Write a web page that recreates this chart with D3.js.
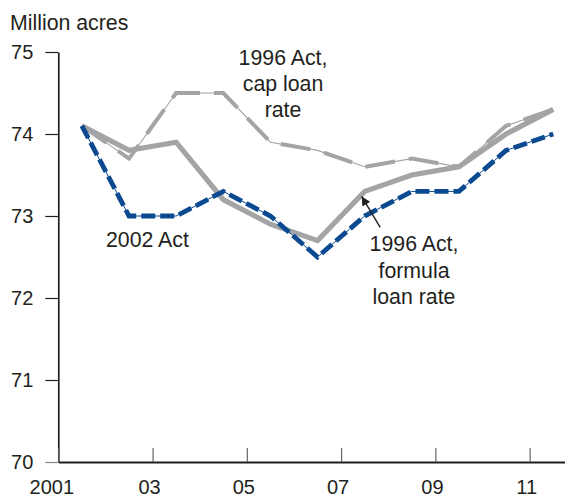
<!DOCTYPE html>
<html>
<head>
<meta charset="utf-8">
<script src="https://cdn.jsdelivr.net/npm/d3@7/dist/d3.min.js"></script>
<style>
  html, body { margin: 0; padding: 0; background: #fff; }
  svg { display: block; font-family: "Liberation Sans", Arial, Helvetica, sans-serif; }
</style>
</head>
<body>
<svg id="chart" width="565" height="500"></svg>
<script>
// ---- data ----
const cropYears = [2001, 2002, 2003, 2004, 2005, 2006, 2007, 2008, 2009, 2010, 2011];
const act1996Formula = [74.1, 73.8, 73.9, 73.2, 72.9, 72.7, 73.3, 73.5, 73.6, 74.0, 74.3];
const act1996Cap     = [74.1, 73.7, 74.5, 74.5, 73.9, 73.8, 73.6, 73.7, 73.6, 74.1, 74.3];
const act2002        = [74.1, 73.0, 73.0, 73.3, 73.0, 72.5, 73.0, 73.3, 73.3, 73.8, 74.0];
const yTicks = [70, 71, 72, 73, 74, 75];
const xTicks = [2001, 2003, 2005, 2007, 2009, 2011];
const xTickLabels = ["2001", "03", "05", "07", "09", "11"];
const yTitle = "Million acres";

// ---- layout ----
const svg = d3.select("#chart");
const x = d3.scaleLinear().domain([2001, 2011.75]).range([58.3, 565]);
const y = d3.scaleLinear().domain([70, 75]).range([462, 52]);
const gray = "#a3a4a6";
const blue = "#0b4a90";

const pts = arr => cropYears.map((yr, i) => [x(yr + 0.5), y(arr[i])]);
const line = d3.line();

// title
svg.append("text").attr("x", 10).attr("y", 30)
  .attr("font-size", 21.3).attr("fill", "#231f20").text(yTitle);

// y axis
const yAxis = svg.append("g").attr("transform", "translate(58.3,0)")
  .call(d3.axisLeft(y).tickValues(yTicks).tickSize(13).tickPadding(12).tickSizeOuter(0).tickFormat(d3.format("d")));
yAxis.select(".domain").attr("stroke", "#231f20").attr("stroke-width", 1.7);
yAxis.selectAll(".tick line").attr("stroke", d => d === 70 ? "#888" : "#231f20").attr("stroke-width", 1.2);
yAxis.selectAll(".tick text").attr("font-size", 20).attr("fill", "#231f20")
  .attr("font-family", "'Liberation Sans', Arial, sans-serif");

// x axis
const xAxis = svg.append("g").attr("transform", "translate(0,462)")
  .call(d3.axisBottom(x).tickValues(xTicks).tickSize(-14).tickSizeOuter(0)
    .tickFormat((d, i) => xTickLabels[i]));
xAxis.select(".domain").attr("stroke", "#231f20").attr("stroke-width", 1.8);
xAxis.selectAll(".tick line").attr("stroke", "#666").attr("stroke-width", 1.2);
xAxis.selectAll(".tick text").attr("font-size", 20).attr("fill", "#231f20")
  .attr("font-family", "'Liberation Sans', Arial, sans-serif")
  .attr("y", 32).attr("dy", 0)
  .attr("dx", (d, i) => i === 0 ? -7 : -3.5);

// 1996 Act, cap loan rate: thin line + thick dashes
svg.append("path").attr("d", line(pts(act1996Cap)))
  .attr("fill", "none").attr("stroke", gray).attr("stroke-width", 1.1);
svg.append("path").attr("d", line(pts(act1996Cap)))
  .attr("fill", "none").attr("stroke", gray).attr("stroke-width", 4)
  .attr("stroke-dasharray", "30,14").attr("stroke-linejoin", "miter");

// 1996 Act, formula loan rate: thick solid gray
svg.append("path").attr("d", line(pts(act1996Formula)))
  .attr("fill", "none").attr("stroke", gray).attr("stroke-width", 5.2)
  .attr("stroke-linejoin", "miter");

// 2002 Act: thin blue + thick blue dashes
svg.append("path").attr("d", line(pts(act2002)))
  .attr("fill", "none").attr("stroke", blue).attr("stroke-width", 1);
svg.append("path").attr("d", line(pts(act2002)))
  .attr("fill", "none").attr("stroke", blue).attr("stroke-width", 4.8)
  .attr("stroke-dasharray", "14,5").attr("stroke-linejoin", "miter");

// annotations
function multiLine(lines, cx, y0, lh) {
  const t = svg.append("text").attr("text-anchor", "middle")
    .attr("font-size", 21.3).attr("fill", "#231f20");
  lines.forEach((s, i) => t.append("tspan").attr("x", cx).attr("y", y0 + i * lh).text(s));
}
multiLine(["1996 Act,", "cap loan", "rate"], 283, 65, 26);
multiLine(["1996 Act,", "formula", "loan rate"], 414, 251, 26.5);
svg.append("text").attr("x", 106).attr("y", 247)
  .attr("font-size", 21.3).attr("fill", "#231f20").text("2002 Act");

// arrow
const tip = [x(2007.5) - 3, y(73.3) + 5];
const tail = [tip[0] + 18.5, tip[1] + 31];
svg.append("defs").append("marker").attr("id", "ah")
  .attr("viewBox", "0 0 10 10").attr("refX", 10).attr("refY", 5)
  .attr("markerWidth", 12).attr("markerHeight", 9).attr("orient", "auto")
  .attr("markerUnits", "userSpaceOnUse")
  .append("path").attr("d", "M0,0 L10,5 L0,10 Z").attr("fill", "#231f20");
svg.append("line").attr("x1", tail[0]).attr("y1", tail[1]).attr("x2", tip[0]).attr("y2", tip[1])
  .attr("stroke", "#231f20").attr("stroke-width", 1.4).attr("marker-end", "url(#ah)");
</script>
</body>
</html>
